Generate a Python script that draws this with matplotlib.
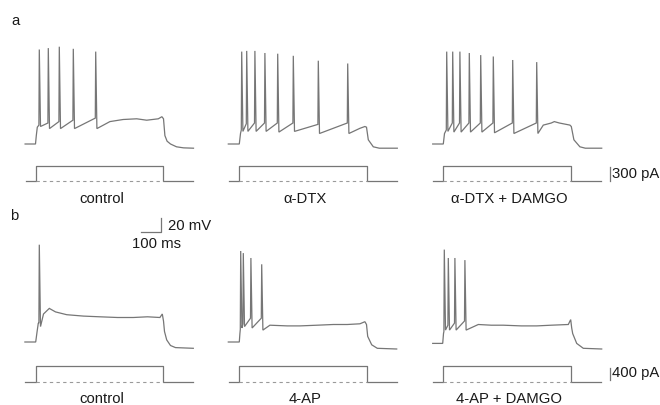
import matplotlib
matplotlib.use("Agg")
import matplotlib.pyplot as plt

plt.rcParams['font.family'] = ['Liberation Sans', 'DejaVu Sans']

W, H = 660, 405
MS_PER_PX = 5.0          # 100 ms scale bar = 20 px
MV_PER_PX = 20 / 14.0    # 20 mV scale bar = 14 px

# ---------------- data ----------------
labels_a = ["control", "\u03b1-DTX", "\u03b1-DTX + DAMGO"]
labels_b = ["control", "4-AP", "4-AP + DAMGO"]

step_on, step_off, t_end = 60, 700, 850   # ms
step_a = 330     # pA
step_b = 500     # pA
bar_a = 300      # pA scale bar, row a
bar_b = 400      # pA scale bar, row b
bar_ms, bar_mv = 100, 20

# row a, control
a1_onset = [(8, -70), (60, -70), (64, -58), (69, -46)]
a1_spk_t = [79, 124, 179, 249, 361]
a1_spk_pk = [65, 67, 69, 66, 62]
a1_spk_thr = [-43, -40, -38, -36, -33]
a1_spk_ahp = [-45, -48, -48, -48, -48]
a1_tail = [(432, -38), (498, -35), (566, -34), (616, -36), (674, -34),
           (692, -31), (700, -34), (707, -58), (718, -66), (735, -70),
           (765, -74), (800, -75.5), (850, -76)]

# row a, alpha-DTX
a2_onset = [(5, -70), (60, -70), (66, -55)]
a2_spk_t = [72, 97, 138, 188, 252, 330, 455, 602]
a2_spk_pk = [62, 63, 63, 60, 59, 56, 49, 45]
a2_spk_thr = [-50, -41, -40, -40, -40, -40, -42, -40]
a2_spk_ahp = [-52, -52, -52, -52, -53, -52, -55, -55]
a2_tail = [(663, -47.6), (688, -45), (696, -46), (705, -64), (730, -74),
           (760, -76), (850, -76)]

# row a, alpha-DTX + DAMGO
a3_onset = [(7, -70), (60, -70), (66, -55)]
a3_spk_t = [77, 107, 143, 190, 247, 310, 407, 527]
a3_spk_pk = [62, 62, 62, 60, 57, 55, 50, 47]
a3_spk_thr = [-50, -40, -40, -40, -40, -40, -40, -40]
a3_spk_ahp = [-52, -53, -53, -53, -53, -54, -55, -55]
a3_tail = [(560, -43), (600, -40), (615, -38), (640, -40), (693, -43),
           (700, -45), (713, -64), (743, -74), (770, -76), (852, -76)]

# row b, control
b1_onset = [(7, -70), (61, -70), (68, -55), (74, -43)]
b1_spk_t = [79]
b1_spk_pk = [69]
b1_spk_thr = [-43]
b1_spk_ahp = [-48]
b1_tail = [(100, -30), (129, -22), (160, -27), (216, -31), (300, -33),
           (382, -34), (470, -35), (549, -35), (620, -34), (682, -35),
           (694, -30), (700, -40), (705, -55), (716, -67), (735, -75),
           (760, -78), (849, -79)]

# row b, 4-AP
b2_onset = [(5, -70), (60, -70), (63, -58)]
b2_spk_t = [67, 80, 118, 172]
b2_spk_pk = [60, 57, 50, 41]
b2_spk_thr = [-52, -44, -36, -36]
b2_spk_ahp = [-50, -48, -50, -53]
b2_tail = [(213, -46), (300, -47), (363, -47), (450, -46), (530, -45),
           (600, -45), (663, -44), (688, -41), (696, -45), (702, -62),
           (722, -74), (750, -79), (847, -80)]

# row b, 4-AP + DAMGO
b3_onset = [(7, -72), (57, -72), (61, -58)]
b3_spk_t = [65, 85, 118, 168]
b3_spk_pk = [62, 50, 50, 47]
b3_spk_thr = [-55, -46, -43, -40]
b3_spk_ahp = [-53, -53, -53, -53]
b3_tail = [(235, -45), (300, -46), (360, -46), (450, -47), (527, -47),
           (600, -46), (685, -45), (697, -38), (702, -50), (707, -58),
           (727, -72), (760, -79), (852, -80)]

row_a = [(a1_onset, a1_spk_t, a1_spk_pk, a1_spk_thr, a1_spk_ahp, a1_tail),
         (a2_onset, a2_spk_t, a2_spk_pk, a2_spk_thr, a2_spk_ahp, a2_tail),
         (a3_onset, a3_spk_t, a3_spk_pk, a3_spk_thr, a3_spk_ahp, a3_tail)]
row_b = [(b1_onset, b1_spk_t, b1_spk_pk, b1_spk_thr, b1_spk_ahp, b1_tail),
         (b2_onset, b2_spk_t, b2_spk_pk, b2_spk_thr, b2_spk_ahp, b2_tail),
         (b3_onset, b3_spk_t, b3_spk_pk, b3_spk_thr, b3_spk_ahp, b3_tail)]

# ---------------- layout (pixels) ----------------
col_x = [23.5, 227.3, 431.3]      # pixel of t = 0 in each column
GREY = '#767676'
TXT = '#1a1a1a'
FS = 10.7


def build_trace(onset, spk_t, spk_pk, spk_thr, spk_ahp, tail):
    pts = list(onset)
    for t, pk, th, ahp in zip(spk_t, spk_pk, spk_thr, spk_ahp):
        pts += [(t - 2, th), (t, pk), (t + 6, ahp)]
    pts += list(tail)
    pts.sort()
    return [p[0] for p in pts], [p[1] for p in pts]


def px_axes(fig, x0, y0, w, h):
    ax = fig.add_axes([x0 / W, 1 - (y0 + h) / H, w / W, h / H])
    ax.set_axis_off()
    ax.set_xlim(0, w * MS_PER_PX)
    return ax


def v_axes(fig, x0, ytop, ybot, ybase, rest=-70):
    ax = px_axes(fig, x0, ytop, 180, ybot - ytop)
    ax.set_ylim(rest - (ybot - ybase) * MV_PER_PX, rest + (ybase - ytop) * MV_PER_PX)
    return ax


def i_axes(fig, x0, ytop, ybot, ybase, pa_per_px):
    ax = px_axes(fig, x0, ytop, 180, ybot - ytop)
    ax.set_ylim(-(ybot - ybase) * pa_per_px, (ybase - ytop) * pa_per_px)
    return ax


def draw_current(ax, amp, t0, t1):
    ax.plot([t0, step_on, step_on, step_off, step_off, t1],
            [0, 0, amp, amp, 0, 0], color=GREY, lw=0.9)
    ax.plot([step_on, step_off], [0, 0], color='#9a9a9a', lw=0.8,
            dashes=(3, 3))


fig = plt.figure(figsize=(W / 100, H / 100), dpi=100)

rows = [(row_a, labels_a, 35, 158, 144, 160, 186, 181, 22.2, step_a, 199),
        (row_b, labels_b, 205, 356, 342, 360, 388, 382, 32.0, step_b, 399)]

cur_axes = []
volt_axes = []
for row, labels, vt, vb, vbase, it, ib, ibase, papx, amp, ly in rows:
    cur_row = []
    volt_row = []
    for k, panel in enumerate(row):
        ax = v_axes(fig, col_x[k], vt, vb, vbase)
        t, v = build_trace(*panel)
        ax.plot(t, v, color=GREY, lw=0.9, solid_joinstyle='miter')
        volt_row.append(ax)

        ai = i_axes(fig, col_x[k], it, ib, ibase, papx)
        draw_current(ai, amp, t[0] + 2, t_end)
        cur_row.append(ai)

        fig.text((col_x[k] + 78) / W, 1 - ly / H, labels[k], ha='center',
                 va='center', fontsize=FS, color=TXT)
    cur_axes.append(cur_row)
    volt_axes.append(volt_row)

# current scale bars
axa = cur_axes[0][2]
axa.plot([891, 891], [10, 10 + bar_a], color=GREY, lw=0.9, clip_on=False)
axa.text(905, 166, f"{bar_a} pA", fontsize=FS, color=TXT, va='center',
         ha='left', clip_on=False)
axb = cur_axes[1][2]
axb.plot([893, 893], [50, 50 + bar_b], color=GREY, lw=0.9, clip_on=False)
axb.text(905, 288, f"{bar_b} pA", fontsize=FS, color=TXT, va='center',
         ha='left', clip_on=False)

# voltage / time scale bar in row b
axs = volt_axes[1][0]
y0 = 87.6
axs.plot([686 - bar_ms, 686, 686], [y0, y0, y0 + bar_mv], color=GREY,
         lw=0.9, clip_on=False)
axs.text(722, y0 + 8, f"{bar_mv} mV", fontsize=FS, color=TXT, va='center',
         ha='left', clip_on=False)
axs.text(541, y0 - 17.5, f"{bar_ms} ms", fontsize=FS, color=TXT,
         va='center', ha='left', clip_on=False)

# panel letters
fig.text(15 / W, 1 - 21 / H, "a", fontsize=FS, color=TXT, ha='center', va='center')
fig.text(14.5 / W, 1 - 216 / H, "b", fontsize=FS, color=TXT, ha='center', va='center')

fig.savefig("out.png", dpi=100)
